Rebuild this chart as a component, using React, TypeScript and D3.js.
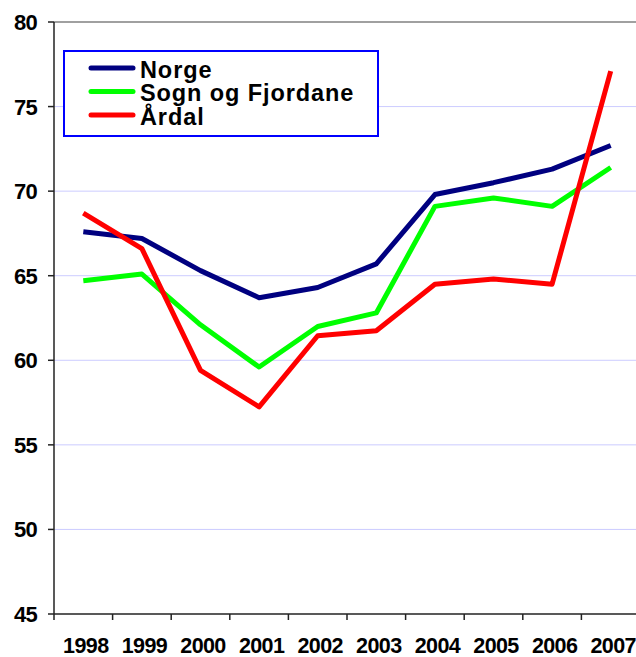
import React from "react";
import * as d3 from "d3";

const years = ["1998","1999","2000","2001","2002","2003","2004","2005","2006","2007"];
const norge = [67.6, 67.2, 65.3, 63.7, 64.3, 65.7, 69.8, 70.5, 71.3, 72.7];
const sogn = [64.7, 65.1, 62.1, 59.6, 62.0, 62.8, 69.1, 69.6, 69.1, 71.4];
const ardal = [68.7, 66.6, 59.4, 57.25, 61.45, 61.75, 64.5, 64.8, 64.5, 77.1];
const yTicks = [45, 50, 55, 60, 65, 70, 75, 80];
const seriesNames = ["Norge", "Sogn og Fjordane", "Årdal"];
const seriesColors = ["#000080", "#00ff00", "#ff0000"];

export default function App() {
  const W = 636, H = 657;
  const x0 = 54, x1 = 640, yTop = 22, yBot = 614;
  const x = d3.scaleBand().domain(years).range([x0, x1]);
  const y = d3.scaleLinear().domain([45, 80]).range([yBot, yTop]);
  const line = d3.line<number>().x((_, i) => (x(years[i]) as number) + x.bandwidth() / 2).y(d => y(d));
  const series = [norge, sogn, ardal];
  const font = "Arial, 'Liberation Sans', sans-serif";
  return (
    <svg width={W} height={H} style={{ position: "absolute", left: 0, top: 0 }}>
      <rect width={W} height={H} fill="#fff" />
      {yTicks.filter(t => t > 45 && t < 80).map(t => (
        <line key={t} x1={x0} x2={W} y1={y(t)} y2={y(t)} stroke="#ccccff" strokeWidth={1} />
      ))}
      <line x1={x0} x2={W} y1={y(80)} y2={y(80)} stroke="#808080" strokeWidth={1.5} />
      <line x1={x0} x2={x0} y1={yTop} y2={yBot} stroke="#222" strokeWidth={1.5} />
      <line x1={x0} x2={W} y1={yBot} y2={yBot} stroke="#222" strokeWidth={1.5} />
      {yTicks.map(t => (
        <g key={t}>
          <line x1={x0 - 6} x2={x0} y1={y(t)} y2={y(t)} stroke="#222" strokeWidth={1.5} />
          <text x={37} y={y(t) + 8} textAnchor="end" fontFamily={font} fontWeight="bold" fontSize={22} letterSpacing={-0.7}>{t}</text>
        </g>
      ))}
      {years.map((yr) => (
        <g key={yr}>
          <line x1={x(yr) as number} x2={x(yr) as number} y1={yBot} y2={yBot + 6} stroke="#222" strokeWidth={1.5} />
          <text x={(x(yr) as number) + x.bandwidth() / 2 + 2.5} y={653} textAnchor="middle" fontFamily={font} fontWeight="bold" fontSize={21.5} letterSpacing={-0.6}>{yr}</text>
        </g>
      ))}
      {series.map((s, i) => (
        <path key={i} d={line(s) || ""} fill="none" stroke={seriesColors[i]} strokeWidth={5} strokeLinejoin="round" />
      ))}
      <rect x={64} y={51} width={314} height={85} fill="#fff" stroke="#0000ff" strokeWidth={2} />
      {seriesNames.map((n, i) => (
        <g key={n}>
          <line x1={91} x2={133} y1={68 + i * 23.5} y2={68 + i * 23.5} stroke={seriesColors[i]} strokeWidth={5} strokeLinecap="round" />
          <text x={140} y={77.5 + i * 23.7} fontFamily={font} fontWeight="bold" fontSize={23.5} letterSpacing={0.9}>{n}</text>
        </g>
      ))}
    </svg>
  );
}
